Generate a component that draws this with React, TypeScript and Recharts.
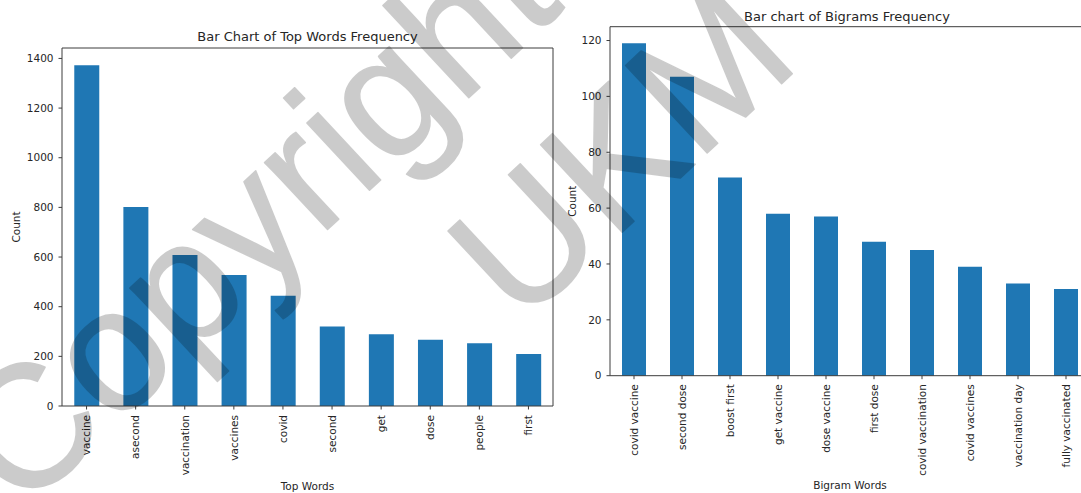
import React from 'react';
import { BarChart, Bar, XAxis, YAxis, CartesianGrid, Label } from 'recharts';

// values
const topWords = ['vaccine', 'asecond', 'vaccination', 'vaccines', 'covid', 'second', 'get', 'dose', 'people', 'first'];
const topCounts = [1373, 802, 608, 528, 444, 320, 289, 267, 253, 209];
const topTicks = [0, 200, 400, 600, 800, 1000, 1200, 1400];

const bigramWords = [
  'covid vaccine',
  'second dose',
  'boost first',
  'get vaccine',
  'dose vaccine',
  'first dose',
  'covid vaccination',
  'covid vaccines',
  'vaccination day',
  'fully vaccinated',
];
const bigramCounts = [119, 107, 71, 58, 57, 48, 45, 39, 33, 31];
const bigramTicks = [0, 20, 40, 60, 80, 100, 120];

const topData = topWords.map((word, i) => ({ word, count: topCounts[i] }));
const bigramData = bigramWords.map((word, i) => ({ word, count: bigramCounts[i] }));

const FONT = '"DejaVu Sans", sans-serif';
const INK = '#262626';
const SPINE = '#3c3c3c';
const BLUE = '#1f77b4';
const TICK_FONT = 10.5;

const RotatedTick = (props: any) => {
  const { x, y, payload } = props;
  return (
    <text
      transform={`translate(${x},${y}) rotate(-90)`}
      textAnchor="end"
      dy="0.36em"
      fontSize={TICK_FONT}
      fill={INK}
      fontFamily={FONT}
    >
      {payload.value}
    </text>
  );
};

// top + right spines of the matplotlib box
const topLine = ({ offset }: any) => [offset.top];
const rightLine = ({ offset }: any) => [offset.left + offset.width];

const labelStyle = { textAnchor: 'middle', fill: INK, fontSize: TICK_FONT, fontFamily: FONT } as any;

const Title: React.FC<{ left: number; width: number; top: number; text: string }> = ({ left, width, top, text }) => (
  <div
    style={{
      position: 'absolute',
      left,
      width,
      top,
      textAlign: 'center',
      fontSize: 13,
      lineHeight: '16px',
      color: INK,
      fontFamily: FONT,
      whiteSpace: 'nowrap',
    }}
  >
    {text}
  </div>
);

const App: React.FC = () => {
  return (
    <div
      style={{
        position: 'absolute',
        left: 0,
        top: 0,
        width: 1081,
        height: 493,
        overflow: 'hidden',
        background: '#fff',
        fontFamily: FONT,
      }}
    >
      <Title left={62} width={491} top={29} text="Bar Chart of Top Words Frequency" />
      <Title left={607} width={480} top={8.5} text="Bar chart of Bigrams Frequency" />

      <div style={{ position: 'absolute', left: 0, top: 0 }}>
        <BarChart
          width={560}
          height={493}
          data={topData}
          margin={{ top: 48, right: 7, bottom: 0, left: 0 }}
          barCategoryGap="25%"
        >
          <CartesianGrid
            stroke={SPINE}
            horizontalCoordinatesGenerator={topLine}
            verticalCoordinatesGenerator={rightLine}
          />
          <XAxis
            dataKey="word"
            interval={0}
            height={87}
            tickSize={3.5}
            tickMargin={5.5}
            tick={<RotatedTick />}
            axisLine={{ stroke: SPINE }}
            tickLine={{ stroke: SPINE }}
          >
            <Label value="Top Words" position="insideBottom" offset={3} style={labelStyle} />
          </XAxis>
          <YAxis
            domain={[0, 1442]}
            ticks={topTicks}
            width={62}
            tickSize={3.5}
            tickMargin={5}
            tick={{ fill: INK, fontSize: TICK_FONT, fontFamily: FONT }}
            axisLine={{ stroke: SPINE }}
            tickLine={{ stroke: SPINE }}
          >
            <Label value="Count" angle={-90} position="insideLeft" offset={16} style={labelStyle} />
          </YAxis>
          <Bar dataKey="count" fill={BLUE} isAnimationActive={false} />
        </BarChart>
      </div>

      <div style={{ position: 'absolute', left: 560, top: 0 }}>
        <BarChart
          width={540}
          height={493}
          data={bigramData}
          margin={{ top: 26.7, right: 10, bottom: 0, left: 0 }}
          barCategoryGap="25%"
        >
          <CartesianGrid
            stroke={SPINE}
            horizontalCoordinatesGenerator={topLine}
            verticalCoordinatesGenerator={rightLine}
          />
          <XAxis
            dataKey="word"
            interval={0}
            height={117.3}
            tickSize={3.5}
            tickMargin={5}
            tick={<RotatedTick />}
            axisLine={{ stroke: SPINE }}
            tickLine={{ stroke: SPINE }}
          >
            <Label value="Bigram Words" position="insideBottom" offset={4} style={labelStyle} />
          </XAxis>
          <YAxis
            domain={[0, 124.95]}
            ticks={bigramTicks}
            width={50}
            tickSize={3.5}
            tickMargin={5}
            tick={{ fill: INK, fontSize: TICK_FONT, fontFamily: FONT }}
            axisLine={{ stroke: SPINE }}
            tickLine={{ stroke: SPINE }}
          >
            <Label value="Count" angle={-90} position="insideLeft" offset={12} style={labelStyle} />
          </YAxis>
          <Bar dataKey="count" fill={BLUE} isAnimationActive={false} />
        </BarChart>
      </div>

      {/* watermark overlay */}
      <svg
        width={1081}
        height={493}
        style={{ position: 'absolute', left: 0, top: 0, pointerEvents: 'none' }}
      >
        <g
          transform="translate(21.6,514.8) rotate(-43)"
          opacity={0.2}
          fill="#000"
          stroke="#000"
          strokeWidth={1.5}
          strokeLinejoin="round"
          fontFamily='"Liberation Sans", Arial, sans-serif'
          fontSize={174}
        >
          <text x={0} y={0}>Copyright</text>
          <text x={492} y={203}>UKM</text>
        </g>
      </svg>
    </div>
  );
};

export default App;
